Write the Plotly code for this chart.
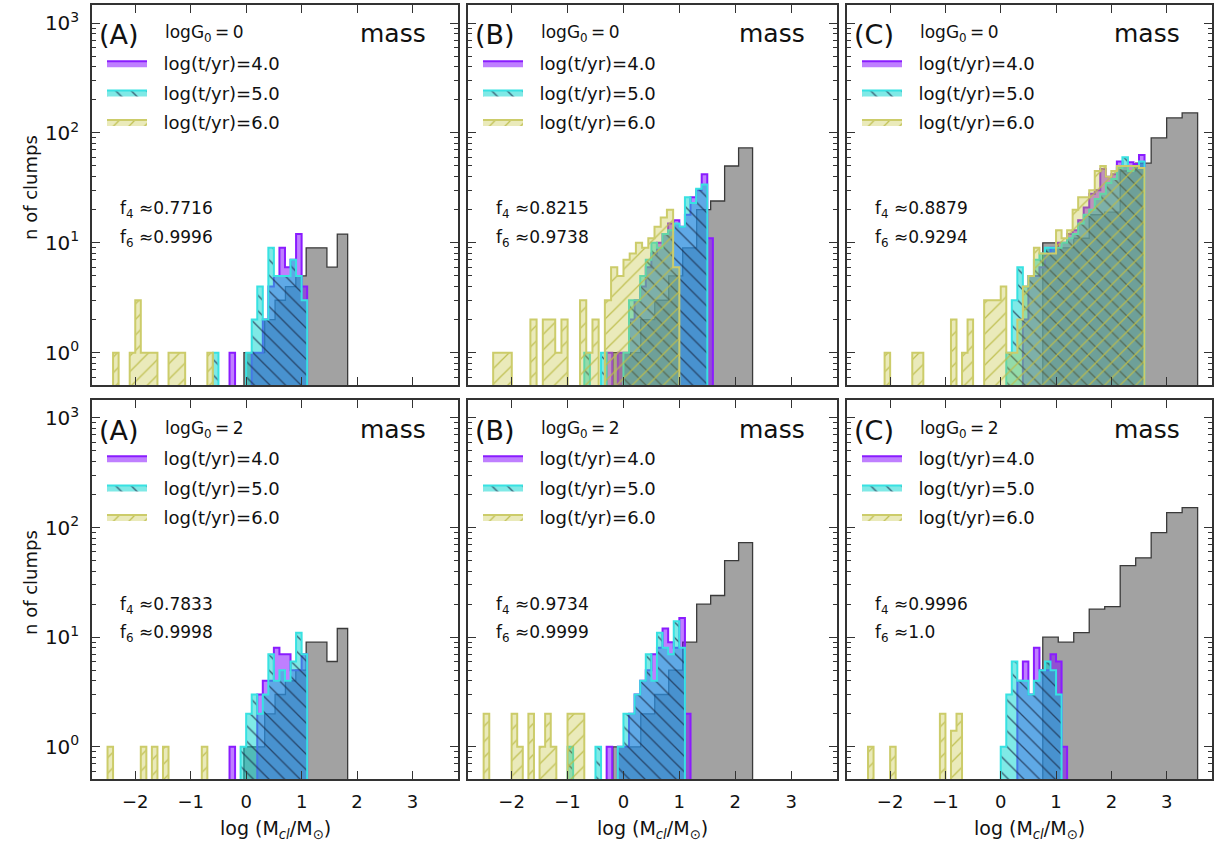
import plotly.graph_objects as go

W, H = 1216, 849
FLOOR = 0.01
BW = 0.1

# ---------------- data (bin starts + counts) ----------------
# initial (gray) distributions, one per column
GRAY_A_X0, GRAY_A_W = -0.04, 0.187
GRAY_A = [1, 1, 2, 3, 4, 5, 9, 9, 6, 12]
GRAY_B_X0, GRAY_B_W = -0.19, 0.25
GRAY_B = [1, 1, 2, 3, 5, 9, 20, 24, 50, 73]
GRAY_C_X0, GRAY_C_W = 0.76, 0.28
GRAY_C = [10, 9, 11, 18, 19, 45, 53, 90, 137, 152]

# logG0 = 0, column A
A0_T4_X0 = -0.3
A0_T4 = [1, 0, 0, 0, 1, 1, 2, 4, 5, 9, 6, 7, 12, 4]
A0_T5_X0 = -0.6
A0_T5 = [1, 0, 0, 0, 0, 0, 1, 2, 4, 2, 9, 5, 5, 5, 7, 5, 3]
A0_T6_X0 = -2.40
A0_T6 = [1, 0, 0, 1, 3, 1, 1, 1, 0, 0, 1, 1, 1, 0, 0, 0, 0, 1]

# logG0 = 0, column B
B0_T4_X0 = -0.3
B0_T4 = [1, 0, 1, 1, 2, 3, 4, 6, 8, 10, 12, 15, 16, 14, 18, 26, 30, 42, 11]
B0_T5_X0 = -0.7
B0_T5 = [1, 0, 0, 1, 0, 0, 0, 1, 3, 3, 5, 7, 10, 9, 12, 13, 15, 14, 26, 23, 31, 34]
B0_T6_X0, B0_T6_W = -2.33, 0.111
B0_T6 = [1, 1, 1, 0, 0, 0, 2, 0, 2, 2, 1, 2, 0, 0, 3, 1, 2, 0, 3, 6, 5, 7, 8, 10,
         9, 11, 14, 17, 20, 6]

# logG0 = 0, column C
C0_T4_X0 = 0.4
C0_T4 = [2, 5, 5, 6, 8, 9, 10, 10, 12, 13, 16, 21, 28, 30, 47, 40, 42, 55, 50, 54,
         52, 63]
C0_T5_X0 = 0.1
C0_T5 = [1, 3, 6, 4, 5, 7, 8, 9, 9, 9, 10, 11, 12, 15, 18, 20, 25, 28, 35, 38, 48,
         60, 45, 50, 55]
C0_T6_X0 = -2.1
C0_T6 = [1, 0, 0, 0, 0, 1, 1, 0, 0, 0, 0, 0, 2, 0, 1, 2, 0, 0, 3, 3, 3, 4, 1, 1, 2,
         4, 5, 9, 8, 8, 8, 13, 11, 13, 20, 26, 26, 30, 45, 50, 40, 45, 50, 50, 50,
         50, 48]

# logG0 = 2, column A
A2_T4_X0 = -0.3
A2_T4 = [1, 0, 0, 0, 0, 3, 4, 4, 8, 7, 7, 5, 5, 7]
A2_T5_X0 = -0.1
A2_T5 = [1, 2, 3, 2, 3, 7, 4, 5, 4, 6, 11, 7]
A2_T6_X0 = -2.5
A2_T6 = [1, 0, 0, 0, 0, 0, 1, 0, 1, 0, 1, 0, 0, 0, 0, 0, 0, 1]

# logG0 = 2, column B
B2_T4_X0 = -0.3
B2_T4 = [1, 0, 1, 1, 2, 3, 4, 5, 7, 8, 12, 9, 8, 15, 2]
B2_T5_X0 = -1.0
B2_T5 = [1, 0, 0, 0, 0, 1, 0, 0, 0, 1, 2, 2, 3, 4, 7, 4, 11, 8, 7, 14, 8]
B2_T6_X0 = -2.5
B2_T6 = [2, 0, 0, 0, 0, 2, 1, 0, 2, 0, 1, 2, 1, 0, 0, 2, 2, 2]

# logG0 = 2, column C
C2_T4_X0 = 0.3
C2_T4 = [4, 6, 3, 8, 5, 5, 7, 6, 1]
C2_T5_X0 = 0.0
C2_T5 = [1, 3, 6, 4, 4, 3, 4, 5, 6, 5, 3]
C2_T6_X0 = -2.4
C2_T6 = [1, 0, 0, 0, 1, 0, 0, 0, 0, 0, 0, 0, 0, 2, 0, 1.4, 2]

LETTERS = ["(A)", "(B)", "(C)"]
G0_LABELS = ["logG<sub>0</sub>\u2009=\u20090", "logG<sub>0</sub>\u2009=\u20092"]
F4_TEXT = [["0.7716", "0.8215", "0.8879"], ["0.7833", "0.9734", "0.9996"]]
F6_TEXT = [["0.9996", "0.9738", "0.9294"], ["0.9998", "0.9999", "1.0"]]
SERIES_NAMES = ["log(t/yr)=4.0", "log(t/yr)=5.0", "log(t/yr)=6.0"]
XTICKS = [-2, -1, 0, 1, 2, 3]

# ---------------- styles ----------------
FONT = "DejaVu Sans"
GRAY_FILL, GRAY_LINE = "rgba(105,105,105,0.62)", "#3a3a3a"
PURPLE_FILL, PURPLE_LINE = "rgba(128,0,255,0.5)", "#8a1cff"
CYAN_FILL, CYAN_LINE = "rgba(0,212,206,0.5)", "#38e2e2"
OLIVE_FILL, OLIVE_LINE = "rgba(190,190,40,0.32)", "#cccc6a"

COL_L = [92, 468, 847]
COL_R = [458, 837, 1212]
ROW_T = [5, 400]
ROW_B = [385, 779]

gray_cols = [(GRAY_A_X0, GRAY_A_W, GRAY_A), (GRAY_B_X0, GRAY_B_W, GRAY_B),
             (GRAY_C_X0, GRAY_C_W, GRAY_C)]
panel_series = [
    [[(A0_T4_X0, BW, A0_T4), (A0_T5_X0, BW, A0_T5), (A0_T6_X0, BW, A0_T6)],
     [(B0_T4_X0, BW, B0_T4), (B0_T5_X0, BW, B0_T5), (B0_T6_X0, B0_T6_W, B0_T6)],
     [(C0_T4_X0, BW, C0_T4), (C0_T5_X0, BW, C0_T5), (C0_T6_X0, BW, C0_T6)]],
    [[(A2_T4_X0, BW, A2_T4), (A2_T5_X0, BW, A2_T5), (A2_T6_X0, BW, A2_T6)],
     [(B2_T4_X0, BW, B2_T4), (B2_T5_X0, BW, B2_T5), (B2_T6_X0, BW, B2_T6)],
     [(C2_T4_X0, BW, C2_T4), (C2_T5_X0, BW, C2_T5), (C2_T6_X0, BW, C2_T6)]],
]


def step_poly(x0, w, counts):
    xs, ys = [x0], [FLOOR]
    for i, c in enumerate(counts):
        v = c if c > 0 else FLOOR
        xs += [x0 + i * w, x0 + (i + 1) * w]
        ys += [v, v]
    xs.append(x0 + len(counts) * w)
    ys.append(FLOOR)
    return xs, ys


def px(X):
    return X / W


def py(Y):
    return 1 - Y / H


fig = go.Figure()
annotations = []
layout_axes = {}

styles = [
    dict(fill=PURPLE_FILL, line=PURPLE_LINE, pattern=None),
    dict(fill=CYAN_FILL, line=CYAN_LINE,
         pattern=dict(shape="\\", bgcolor=CYAN_FILL, fgcolor="#1a2a48",
                      fgopacity=0.75, size=11, solidity=0.12, fillmode="replace")),
    dict(fill=OLIVE_FILL, line=OLIVE_LINE,
         pattern=dict(shape="/", bgcolor=OLIVE_FILL, fgcolor="#bdbd4a",
                      fgopacity=0.9, size=11, solidity=0.12, fillmode="replace")),
]

NB = "\u00a0\u00a0"

for r in range(2):
    for c in range(3):
        k = r * 3 + c + 1
        xa = "x" if k == 1 else f"x{k}"
        ya = "y" if k == 1 else f"y{k}"
        lg = "legend" if k == 1 else f"legend{k}"

        gx0, gw, gcounts = gray_cols[c]
        xs, ys = step_poly(gx0, gw, gcounts)
        fig.add_trace(go.Scatter(x=xs, y=ys, mode="lines", fill="toself",
                                 fillcolor=GRAY_FILL,
                                 line=dict(color=GRAY_LINE, width=1.3),
                                 showlegend=False, hoverinfo="skip",
                                 xaxis=xa, yaxis=ya))
        for s, (x0, w, counts) in enumerate(panel_series[r][c]):
            st = styles[s]
            xs, ys = step_poly(x0, w, counts)
            kw = {}
            if st["pattern"] is not None:
                kw["fillpattern"] = st["pattern"]
            fig.add_trace(go.Scatter(x=xs, y=ys, mode="lines", fill="toself",
                                     fillcolor=st["fill"],
                                     line=dict(color=st["line"], width=2),
                                     name=NB + SERIES_NAMES[s], legend=lg,
                                     legendgroup=f"g{k}_{s}",
                                     hoverinfo="skip",
                                     xaxis=xa, yaxis=ya, **kw))

        xd = [px(COL_L[c]), px(COL_R[c])]
        yd = [py(ROW_B[r]), py(ROW_T[r])]
        axis_common = dict(showline=True, mirror="allticks", linecolor="#333333",
                           linewidth=1.5, ticks="inside", tickcolor="#333333",
                           showgrid=False, zeroline=False)
        xkey = "xaxis" if k == 1 else f"xaxis{k}"
        ykey = "yaxis" if k == 1 else f"yaxis{k}"
        layout_axes[xkey] = dict(domain=xd, anchor=ya, range=[-2.78, 3.82],
                                 tickvals=XTICKS,
                                 ticktext=[str(t).replace("-", "\u2212") for t in XTICKS],
                                 ticklen=8, showticklabels=(r == 1),
                                 ticklabelstandoff=6,
                                 tickfont=dict(family=FONT, size=18, color="#111111"),
                                 **axis_common)
        layout_axes[ykey] = dict(domain=yd, anchor=xa, type="log",
                                 range=[-0.294, 3.164],
                                 tickvals=[1, 10, 100, 1000],
                                 ticktext=["10<sup>0</sup>", "10<sup>1</sup>",
                                           "10<sup>2</sup>", "10<sup>3</sup>"],
                                 ticklen=8, showticklabels=(c == 0),
                                 ticklabelstandoff=7,
                                 tickfont=dict(family=FONT, size=20, color="#111111"),
                                 minor=dict(ticks="inside", ticklen=4,
                                            tickcolor="#333333",
                                            tickvals=[m * 10 ** e for e in range(-1, 4)
                                                      for m in range(2, 10)]),
                                 **axis_common)

        L = COL_L[c]
        T = ROW_T[r]
        annotations += [
            dict(text=LETTERS[c], x=px(L + 5), y=py(T + 30), xanchor="left",
                 yanchor="middle", font=dict(family=FONT, size=27, color="#111")),
            dict(text=G0_LABELS[r], x=px(L + 71), y=py(T + 29), xanchor="left",
                 yanchor="middle", font=dict(family=FONT, size=17, color="#111")),
            dict(text="mass", x=px(COL_R[c] - 30), y=py(T + 29), xanchor="right",
                 yanchor="middle", font=dict(family=FONT, size=25, color="#111")),
            dict(text="f<sub>4</sub> \u2248" + F4_TEXT[r][c], x=px(L + 26),
                 y=py(T + 205), xanchor="left", yanchor="middle",
                 font=dict(family=FONT, size=17, color="#111")),
            dict(text="f<sub>6</sub> \u2248" + F6_TEXT[r][c], x=px(L + 26),
                 y=py(T + 233), xanchor="left", yanchor="middle",
                 font=dict(family=FONT, size=17, color="#111")),
        ]
        layout_axes[lg] = dict(x=px(L + 10), y=py(T + 40), xanchor="left",
                               yanchor="top", bgcolor="rgba(0,0,0,0)",
                               font=dict(family=FONT, size=18, color="#111"),
                               itemwidth=40, tracegroupgap=3, traceorder="grouped")

for r in range(2):
    annotations.append(dict(text="n of clumps", x=px(30), y=py(ROW_T[r] + 183),
                            textangle=-90, xanchor="center", yanchor="middle",
                            font=dict(family=FONT, size=18, color="#111")))
for c in range(3):
    annotations.append(dict(text="log (M<sub><i>cl</i></sub>/M<sub>\u2299</sub>)",
                            x=px((COL_L[c] + COL_R[c]) / 2), y=py(829),
                            xanchor="center", yanchor="middle",
                            font=dict(family=FONT, size=19, color="#111")))

for a in annotations:
    a.update(xref="paper", yref="paper", showarrow=False)

fig.update_layout(width=W, height=H, margin=dict(l=0, r=0, t=0, b=0),
                  paper_bgcolor="white", plot_bgcolor="white",
                  annotations=annotations, **layout_axes)

fig.write_html("out.html")
